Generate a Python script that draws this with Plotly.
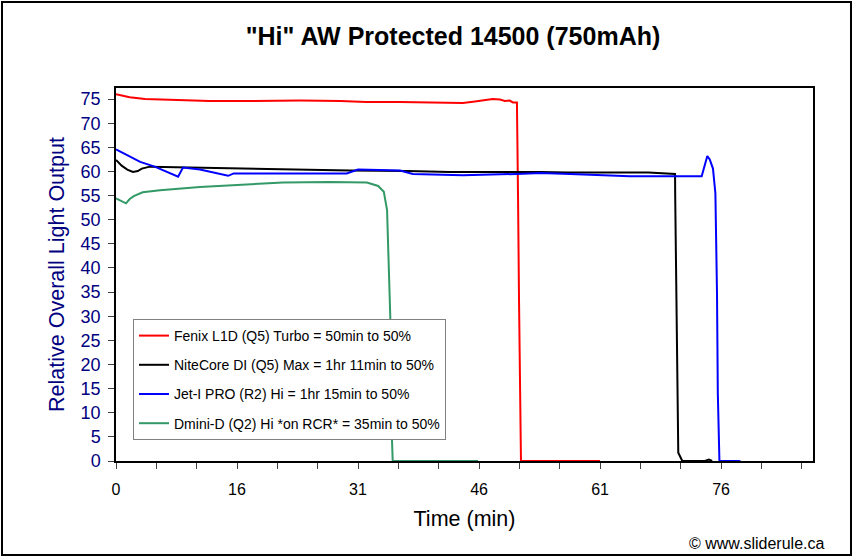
import plotly.graph_objects as go

# ---- data (x in axis minutes, y relative output) ----
fenix_x = [0, 1.7, 3.6, 5.45, 7.9, 11.6, 16.6, 22.8, 27.8, 31.0, 35.2, 38.1, 41.4, 43.0, 44.5, 45.7, 46.7, 47.6, 48.2, 48.8, 49.2, 49.7, 49.72, 49.84, 49.96, 50.08, 50.2, 60.0]
fenix_y = [76.0, 75.4, 75.0, 74.9, 74.8, 74.6, 74.6, 74.7, 74.6, 74.4, 74.4, 74.3, 74.2, 74.2, 74.5, 74.8, 75.0, 74.9, 74.6, 74.7, 74.3, 74.3, 68.6, 54.1, 33.2, 12.6, 0, 0]

nite_x = [0, 0.7, 1.4, 2.1, 2.7, 3.2, 4.2, 10.4, 16.6, 22.8, 29.0, 36.1, 41.4, 52.6, 56.0, 66.0, 69.3, 69.32, 69.4, 69.6, 69.7, 70.2, 73.0, 73.5, 73.9]
nite_y = [62.4, 61.2, 60.4, 59.9, 60.1, 60.6, 61.0, 60.8, 60.6, 60.3, 60.2, 60.1, 59.9, 59.9, 59.8, 59.8, 59.5, 54.8, 41.6, 14.1, 1.7, 0, 0, 0.3, 0]

jet_x = [0, 1.4, 3.0, 4.8, 7.7, 8.3, 10.4, 13.9, 14.6, 22.8, 28.6, 30.0, 35.2, 36.8, 43.0, 49.7, 52.6, 56.3, 60.0, 63.7, 72.6, 73.3, 73.6, 74.0, 74.3, 74.5, 74.6, 74.8, 77.4]
jet_y = [64.6, 63.4, 62.0, 61.0, 58.9, 60.8, 60.4, 59.1, 59.6, 59.6, 59.6, 60.4, 60.2, 59.5, 59.2, 59.5, 59.7, 59.5, 59.2, 59.0, 59.0, 63.2, 62.5, 60.6, 55.5, 34.8, 14.1, 0, 0]

dmini_x = [0, 0.74, 1.24, 1.7, 2.2, 3.3, 5.45, 10.4, 16.6, 20.7, 26.5, 31.1, 32.5, 33.2, 33.6, 33.8, 34.0, 34.2, 34.3, 44.9]
dmini_y = [54.4, 53.9, 53.4, 54.3, 54.9, 55.7, 56.1, 56.8, 57.4, 57.7, 57.8, 57.7, 57.0, 55.8, 52.0, 39.6, 29.9, 5.0, 0, 0]

series_names = [
    "Fenix L1D (Q5) Turbo = 50min to 50%",
    "NiteCore DI (Q5) Max = 1hr 11min to 50%",
    "Jet-I PRO (R2) Hi = 1hr 15min to 50%",
    "Dmini-D (Q2) Hi *on RCR* = 35min to 50%",
]
series_colors = ["#ff0000", "#000000", "#0000ff", "#339966"]

x_tick_pos = [0, 15, 30, 45, 60, 75]
x_tick_text = ["0", "16", "31", "46", "61", "76"]
y_ticks = list(range(0, 80, 5))

FONT = "Arial, Liberation Sans, sans-serif"

fig = go.Figure()
for i, (xs, ys) in enumerate([(fenix_x, fenix_y), (nite_x, nite_y), (jet_x, jet_y), (dmini_x, dmini_y)]):
    fig.add_trace(go.Scatter(
        x=xs, y=ys, mode="lines", name=series_names[i],
        line=dict(color=series_colors[i], width=2),
        legendgroup=str(i),
    ))

W, H = 855, 560
L, R, T, B = 116, 42, 88, 99
pw, ph = W - L - R, H - T - B

def px(x):
    return (x - L) / pw

def py(y):
    return (H - B - y) / ph

fig.update_layout(
    width=W, height=H,
    margin=dict(l=L, r=R, t=T, b=B, pad=0),
    paper_bgcolor="white", plot_bgcolor="white",
    font=dict(family=FONT, color="black"),
    title=dict(text='<b>"Hi" AW Protected 14500 (750mAh)</b>', xref="container", x=453 / W,
               xanchor="center", yref="container", y=1 - 36 / H, yanchor="middle",
               font=dict(size=25, color="black")),
    showlegend=True,
    legend=dict(x=px(133), y=py(319), xanchor="left", yanchor="top",
                bgcolor="white", bordercolor="#808080", borderwidth=1,
                font=dict(size=14, color="black"), tracegroupgap=8,
                itemwidth=30),
    xaxis=dict(range=[0, 86.4], tickmode="array", tickvals=x_tick_pos, ticktext=x_tick_text,
               ticks="outside", ticklen=6, tickcolor="#404040", ticklabelstandoff=7,
               minor=dict(ticks="outside", dtick=5, tick0=0, ticklen=6, tickcolor="#404040"),
               showgrid=False, zeroline=False, showline=True, linecolor="black", linewidth=1.5,
               mirror=True, tickfont=dict(size=16, color="black"),
               title=dict(text="Time (min)", font=dict(size=21.5, color="black"), standoff=14)),
    yaxis=dict(range=[0, 77.3], tickmode="array", tickvals=y_ticks,
               ticks="outside", ticklen=6, tickcolor="#404040", ticklabelstandoff=4,
               showgrid=False, zeroline=False, showline=True, linecolor="black", linewidth=1.5,
               mirror=True, tickfont=dict(size=18, color="#000080"),
               title=dict(text="Relative Overall Light Output", font=dict(size=21.5, color="#000080"), standoff=10)),
)

# outer frame
fig.add_shape(type="rect", xref="paper", yref="paper",
              x0=px(2), x1=px(851), y0=py(555), y1=py(2),
              line=dict(color="black", width=2), fillcolor="rgba(0,0,0,0)", layer="above")

fig.add_annotation(text="© www.sliderule.ca", xref="paper", yref="paper",
                   x=px(826), y=py(543), xanchor="right", yanchor="middle",
                   showarrow=False, font=dict(size=16, color="black"))

fig.write_html("out.html", config={"displayModeBar": False},
               post_script="document.body.style.margin='0';")
